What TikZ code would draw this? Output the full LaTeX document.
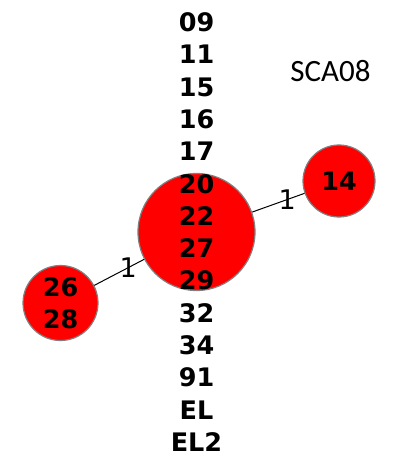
\documentclass[tikz,border=0pt]{standalone}
\usepackage{fontspec}
\newfontfamily\dvsans{DejaVu Sans}
\newfontfamily\carlito{Carlito}
\begin{document}
\begin{tikzpicture}[x=1pt,y=-1pt,
  hap/.style={circle, fill=red, draw=gray, line width=1.2pt, inner sep=0pt},
  ids/.style={font=\dvsans\bfseries\fontsize{25.5}{32.3}\selectfont, align=center, inner sep=0pt},
  elab/.style={font=\dvsans\fontsize{27}{30}\selectfont, inner sep=0pt},
  edgeln/.style={draw=black, line width=1pt}]
\useasboundingbox (0,0) rectangle (394,462);
\node[hap, minimum size=117pt] (h1) at (196.5,232) {};
\node[hap, minimum size=72pt] (h2) at (339,181) {};
\node[hap, minimum size=75pt] (h3) at (60.5,303) {};
\draw[edgeln] (h1) -- (h2) node[elab, pos=0.67] (e1) {1};
\draw[edgeln] (h3) -- (h1) node[elab, pos=0.68] (e2) {1};
\node[ids] (t1) at (h1.center) {09\\11\\15\\16\\17\\20\\22\\27\\29\\32\\34\\91\\EL\\EL2};
\node[ids] (t2) at (h2.center) {14};
\node[ids] (t3) at (h3.center) {26\\28};
\node[font=\carlito\fontsize{31}{36}\selectfont, inner sep=0pt, anchor=base] (title) at (330.5,81.5) {SCA08};
\end{tikzpicture}
\end{document}
